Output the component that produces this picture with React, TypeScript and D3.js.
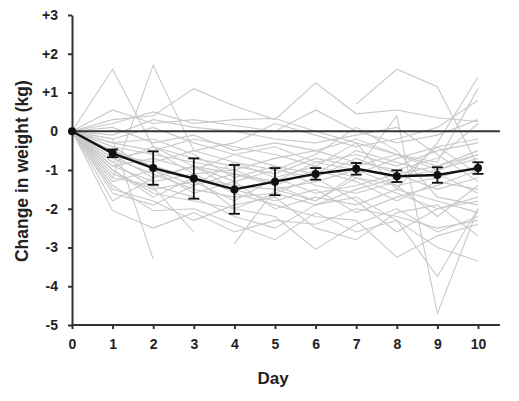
// Individual weight-change trajectories (grey) with group mean ± error (black).
import { useEffect, useRef } from "react";
import * as d3 from "d3";

const days = [0, 1, 2, 3, 4, 5, 6, 7, 8, 9, 10];
const yTicks = [-5, -4, -3, -2, -1, 0, 1, 2, 3];

type V = number | null;
const subjects: V[][] = [
  [0, 1.6, -0.4, -0.9, -1.1, -1.3, -0.8, -1.0, -1.4, -1.2, -0.9],
  [0, -1.2, 1.7, -0.5, -0.8, -1.0, -1.2, -0.7, -1.1, -0.9, -0.6],
  [0, 0.3, 0.4, 1.1, 0.65, 0.3, 1.25, 0.45, 0.55, 0.35, 0.25],
  [0, 0.55, 0.2, 0.3, 0.15, 0.0, 0.55, 0.0, -0.3, -0.1, 0.3],
  [null, null, null, null, null, null, null, 0.7, 1.6, 1.15, -0.9],
  [0, -0.3, -0.5, -0.2, -0.4, -0.6, -0.9, -0.3, -1.5, -0.3, 1.4],
  [0, -0.2, -3.3, null, null, null, null, null, null, null, null],
  [0, -0.8, -1.45, -2.6, null, null, null, null, null, null, null],
  [null, null, null, null, -2.9, -1.5, -1.8, -1.2, -1.6, -2.0, -1.7],
  [0, -2.05, -2.5, -2.1, -2.6, -2.3, -2.4, -2.0, -2.2, -2.5, -2.3],
  [0, -1.4, -2.05, -2.0, -2.4, -2.8, -2.1, -2.6, -2.3, -3.0, -3.35],
  [0, -1.0, -1.6, -1.8, -2.0, -2.2, -3.05, -2.4, -2.0, -2.6, -2.2],
  [0, -0.9, -1.3, -1.1, -1.6, -1.9, -2.2, -2.3, -3.25, -2.7, -2.4],
  [0, -0.5, -0.9, -1.2, -1.4, -1.5, -1.3, -1.0, 0.4, -4.7, -2.0],
  [0, -0.7, -1.1, -1.5, -1.7, -1.6, -1.9, -1.7, -2.3, -3.75, -2.0],
  [0, -0.4, -0.6, -0.8, -1.0, -0.7, -0.5, -0.2, -0.6, -0.8, 1.1],
  [0, -0.6, -0.8, -0.5, -0.3, 0.2, -0.1, -0.4, -0.2, 0.1, 0.8],
  [0, -1.1, -1.5, -1.3, -1.8, -1.2, -1.6, -1.4, -1.1, -1.5, -1.2],
  [0, -1.3, -1.0, -1.6, -1.3, -2.0, -1.7, -1.9, -1.5, -1.8, -2.1],
  [0, -0.2, 0.1, -0.3, -0.6, -0.4, -0.8, -0.6, -0.9, -0.5, -0.3],
  [0, -0.8, -0.4, -0.7, -0.9, -1.1, -0.7, -0.9, -0.6, -1.0, -0.7],
  [0, -1.6, -1.9, -1.4, -1.1, -1.4, -1.0, -1.3, -1.8, -1.3, -1.5],
  [0, -0.3, -0.2, -0.6, -1.2, -0.9, -1.4, -1.6, -1.3, -0.4, -0.2],
  [0, -1.8, -1.2, -0.9, -1.5, -1.8, -1.5, -2.1, -1.7, -1.4, -1.0],
  [0, -0.1, 0.3, 0.1, 0.0, -0.2, -0.3, -0.1, 0.1, -0.6, -1.3],
  [0, -0.9, -0.7, -1.0, -0.6, -0.9, -1.1, -0.5, -0.8, -1.1, -1.6],
  [0, -1.5, -1.8, -2.3, -1.9, -1.7, -2.5, -2.8, -2.1, -1.9, -2.7],
  [0, -0.6, -1.2, -0.9, -1.3, -1.0, -0.6, 0.1, -0.5, -1.7, -1.9],
  [0, -1.2, -1.4, -1.7, -2.2, -2.5, -1.9, -1.5, -1.2, -1.0, -0.6],
  [0, -0.4, -1.0, -1.4, -0.8, -1.2, -0.9, -1.2, -1.4, -2.2, -1.4],
  [0, 0.1, -0.3, -0.1, -0.5, -0.3, -0.5, -0.8, -1.0, -0.7, 0.2],
  [0, -0.7, -0.5, -1.1, -1.0, -1.4, -1.8, -1.1, -0.7, -0.4, -1.1],
  [0, -1.0, -1.7, -1.2, -2.0, -1.6, -1.2, -1.8, -2.6, -2.0, -1.8],
  [0, 0.2, 0.5, 0.2, 0.3, 0.33, 0.0, -0.3, -0.6, -0.9, -0.5],
];

const meanChange = [0, -0.57, -0.95, -1.22, -1.5, -1.3, -1.1, -0.97, -1.16, -1.13, -0.95];
const errChange = [0, 0.1, 0.43, 0.52, 0.63, 0.35, 0.15, 0.15, 0.15, 0.2, 0.15];

export default function App() {
  const svgRef = useRef<SVGSVGElement | null>(null);

  useEffect(() => {
    const svg = d3.select(svgRef.current);
    svg.selectAll("*").remove();

    const W = 519;
    const H = 401;
    const x = d3.scaleLinear().domain([0, 10]).range([72, 478]);
    const y = d3.scaleLinear().domain([-5, 3]).range([325, 15]);
    const xEnd = x(10.54);
    const font = "Liberation Sans, Arial, sans-serif";

    svg.attr("width", W).attr("height", H).attr("viewBox", `0 0 ${W} ${H}`);

    const line = d3
      .line<V>()
      .defined((d) => d != null)
      .x((_, i) => x(days[i]))
      .y((d) => y(d as number));

    svg
      .append("g")
      .selectAll("path")
      .data(subjects)
      .join("path")
      .attr("d", (d) => line(d))
      .attr("fill", "none")
      .attr("stroke", "#c9c9c9")
      .attr("stroke-width", 1.1);

    // zero reference
    svg
      .append("line")
      .attr("x1", x(0))
      .attr("x2", xEnd)
      .attr("y1", y(0))
      .attr("y2", y(0))
      .attr("stroke", "#333")
      .attr("stroke-width", 2);

    // axes
    const xAxis = svg
      .append("g")
      .attr("transform", `translate(0,${y(-5)})`)
      .call(d3.axisBottom(x).tickValues(days).tickSize(4).tickSizeOuter(0).tickFormat((v) => String(v)));
    xAxis.select(".domain").attr("d", `M${x(0)},0H${xEnd}`);

    const yAxis = svg
      .append("g")
      .attr("transform", `translate(${x(0)},0)`)
      .call(
        d3
          .axisLeft(y)
          .tickValues(yTicks)
          .tickSize(4)
          .tickSizeOuter(0)
          .tickFormat((v) => ((v as number) > 0 ? `+${v}` : String(v)))
      );

    for (const ax of [xAxis, yAxis]) {
      ax.select(".domain").attr("stroke", "#333").attr("stroke-width", 2);
      ax.selectAll(".tick line").attr("stroke", "#333").attr("stroke-width", 2);
      ax.selectAll(".tick text")
        .attr("fill", "#222")
        .attr("font-family", font)
        .attr("font-weight", "bold")
        .attr("font-size", 14);
    }
    xAxis.selectAll(".tick text").attr("y", 10).attr("dy", "1em");
    yAxis.selectAll(".tick text").attr("x", -14);

    // mean ± error
    const g = svg.append("g");
    g.selectAll("line.err")
      .data(meanChange)
      .join("line")
      .attr("x1", (_, i) => x(days[i]))
      .attr("x2", (_, i) => x(days[i]))
      .attr("y1", (d, i) => y(d + errChange[i]))
      .attr("y2", (d, i) => y(d - errChange[i]))
      .attr("stroke", "#111")
      .attr("stroke-width", 1.8);
    for (const sgn of [1, -1]) {
      g.selectAll(`line.cap${sgn}`)
        .data(meanChange.filter((_, i) => errChange[i] > 0))
        .join("line")
        .attr("x1", (_, i) => x(days[i + 1]) - 5.5)
        .attr("x2", (_, i) => x(days[i + 1]) + 5.5)
        .attr("y1", (d, i) => y(d + sgn * errChange[i + 1]))
        .attr("y2", (d, i) => y(d + sgn * errChange[i + 1]))
        .attr("stroke", "#111")
        .attr("stroke-width", 1.8);
    }
    g.append("path")
      .attr("d", line(meanChange))
      .attr("fill", "none")
      .attr("stroke", "#111")
      .attr("stroke-width", 2.4);
    g.selectAll("circle")
      .data(meanChange)
      .join("circle")
      .attr("cx", (_, i) => x(days[i]))
      .attr("cy", (d) => y(d))
      .attr("r", 4)
      .attr("fill", "#111");

    // titles
    svg
      .append("text")
      .attr("x", 273)
      .attr("y", 384)
      .attr("text-anchor", "middle")
      .attr("font-family", font)
      .attr("font-weight", "bold")
      .attr("font-size", 17)
      .attr("fill", "#222")
      .text("Day");
    svg
      .append("text")
      .attr("transform", `translate(28,${y(-1.03)}) rotate(-90)`)
      .attr("text-anchor", "middle")
      .attr("font-family", font)
      .attr("font-weight", "bold")
      .attr("font-size", 17.5)
      .attr("fill", "#222")
      .text("Change in weight (kg)");
  }, []);

  return <svg ref={svgRef} style={{ position: "absolute", left: 0, top: 0 }} />;
}
